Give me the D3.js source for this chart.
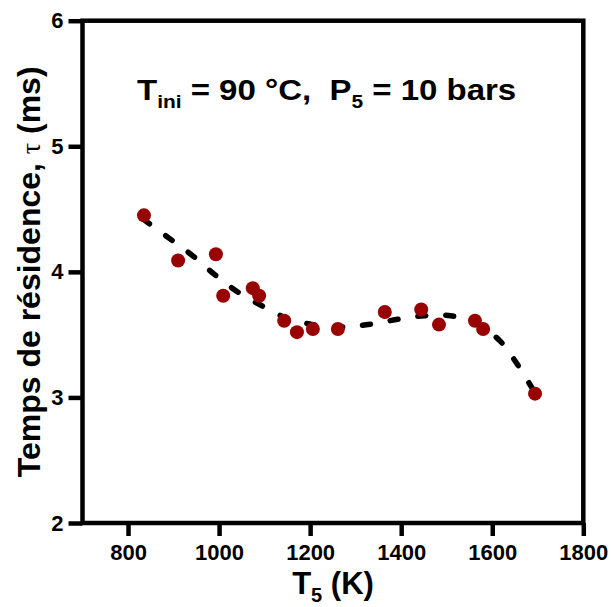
<!DOCTYPE html>
<html><head><meta charset="utf-8">
<script src="https://cdn.jsdelivr.net/npm/d3@7"></script>
<style>body{margin:0;background:#fff}svg{display:block}text{font-family:"Liberation Sans",Arial,sans-serif;font-weight:bold}</style>
</head><body>
<script>
// Measured points
const tempK = [835, 910, 993, 1009, 1074, 1088, 1143, 1171, 1206, 1261, 1364, 1444, 1483, 1562, 1580, 1694];
const tauMs = [4.45, 4.09, 4.14, 3.81, 3.87, 3.81, 3.61, 3.52, 3.545, 3.545, 3.68, 3.70, 3.58, 3.61, 3.545, 3.03];
// Dashed trend curve
const fitK =   [833, 897, 945, 993, 1041, 1094, 1149, 1206, 1268, 1327, 1389, 1450, 1509, 1568, 1617, 1654, 1698];
const fitTau = [4.42, 4.25, 4.12, 3.97, 3.84, 3.73, 3.63, 3.58, 3.56, 3.58, 3.62, 3.65, 3.65, 3.58, 3.45, 3.27, 3.01];
const xTicks = [800, 1000, 1200, 1400, 1600, 1800];
const yTicks = [2, 3, 4, 5, 6];

const W = 611, H = 607;
const svg = d3.select("body").append("svg").attr("width", W).attr("height", H);
const x = d3.scaleLinear().domain([700, 1800]).range([82.5, 583.3]);
const y = d3.scaleLinear().domain([2, 6]).range([523, 20.7]);

// frame
const fw = 4.5;
svg.append("rect").attr("x", x(700)).attr("y", y(6)).attr("width", x(1800) - x(700)).attr("height", y(2) - y(6))
  .attr("fill", "none").attr("stroke", "#000").attr("stroke-width", fw);

// axes
const xAxis = d3.axisBottom(x).tickValues(xTicks).tickSize(13).tickPadding(8).tickFormat(d3.format("d"));
const gx = svg.append("g").attr("transform", `translate(0,${y(2)})`).call(xAxis);
const yAxis = d3.axisLeft(y).tickValues(yTicks).tickSize(14).tickPadding(5).tickFormat(d3.format("d"));
const gy = svg.append("g").attr("transform", `translate(${x(700)},0)`).call(yAxis);
[gx, gy].forEach(g => {
  g.select(".domain").remove();
  g.selectAll(".tick line").attr("stroke", "#000").attr("stroke-width", fw);
  g.selectAll(".tick text").attr("fill", "#000").style("font-size", "22px").style("font-family", '"Liberation Sans",Arial,sans-serif').style("font-weight", "bold");
});
gx.selectAll(".tick text").attr("dy", "0.71em");

// dashed curve
const fit = fitK.map((k, i) => [k, fitTau[i]]);
svg.append("path").datum(fit)
  .attr("d", d3.line().x(d => x(d[0])).y(d => y(d[1])).curve(d3.curveCatmullRom))
  .attr("fill", "none").attr("stroke", "#000").attr("stroke-width", 5.5)
  .attr("stroke-linecap", "round").attr("stroke-dasharray", "8,20");

// points
svg.append("g").selectAll("circle").data(tempK.map((k, i) => [k, tauMs[i]])).join("circle")
  .attr("cx", d => x(d[0])).attr("cy", d => y(d[1])).attr("r", 7).attr("fill", "#990000");

// annotation
const ann = svg.append("text").attr("transform", "translate(137,100) scale(1.1,1)").style("font-size", "30px").attr("fill", "#000")
  .attr("xml:space", "preserve").style("white-space", "pre");
ann.append("tspan").text("T");
ann.append("tspan").text("ini").style("font-size", "19px").attr("dy", 8);
ann.append("tspan").text(" = 90 °C,  P").attr("dy", -8);
ann.append("tspan").text("5").style("font-size", "19px").attr("dy", 8);
ann.append("tspan").text(" = 10 bars").attr("dy", -8);

// x label
const xl = svg.append("text").attr("x", 333).attr("y", 594).attr("text-anchor", "middle").style("font-size", "31px").attr("fill", "#000");
xl.append("tspan").text("T");
xl.append("tspan").text("5").style("font-size", "20px").attr("dy", 8);
xl.append("tspan").text(" (K)").attr("dy", -8);

// y label
const yl = svg.append("text").attr("transform", `translate(40,${(y(2) + y(6)) / 2}) rotate(-90)`)
  .attr("text-anchor", "middle").style("font-size", "32px").attr("fill", "#000");
yl.append("tspan").text("Temps de résidence, ");
yl.append("tspan").text("τ").style("font-family", '"Liberation Serif","DejaVu Serif",serif').style("font-weight", "normal").style("font-size", "28px");
yl.append("tspan").text(" (ms)");
</script>
</body></html>
